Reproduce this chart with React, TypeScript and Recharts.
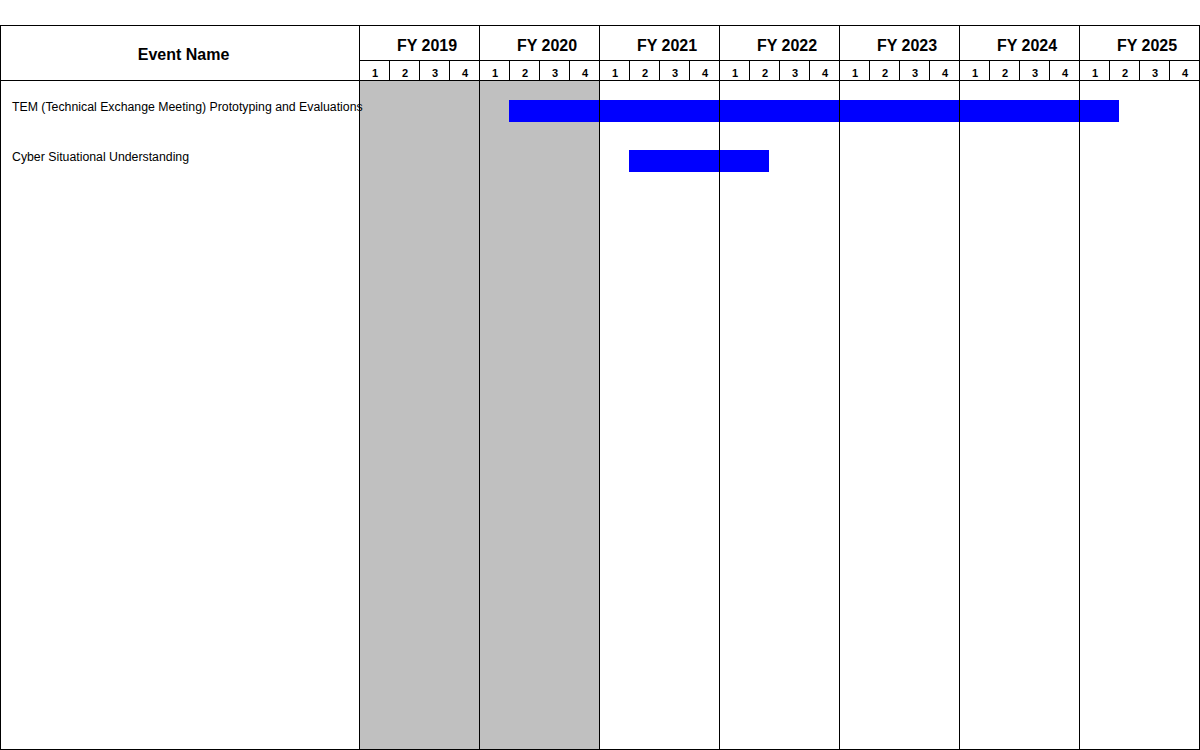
import React from 'react';
import { ComposedChart, Bar, XAxis, YAxis, ReferenceLine, CartesianGrid } from 'recharts';

// ---------- data ----------
const fiscalYears = [2019, 2020, 2021, 2022, 2023, 2024, 2025];
const quarterLabels = ['1', '2', '3', '4'];
const shadedYears = [2019, 2020];
const eventNames = [
  'TEM (Technical Exchange Meeting) Prototyping and Evaluations',
  'Cyber Situational Understanding',
];
// year-month of first and last (inclusive) month of each event
const eventStarts = ['2020-01', '2021-01'];
const eventEnds = ['2025-01', '2022-02'];

// ---------- helpers ----------
const FIRST_FY = fiscalYears[0];
const TOTAL_MONTHS = fiscalYears.length * 12;
// fiscal year N begins in October of year N-1
const monthIndex = (ym: string) => {
  const [y, m] = ym.split('-').map(Number);
  return (y - (FIRST_FY - 1)) * 12 + (m - 10);
};
const fyIndex = (fy: number) => (fy - FIRST_FY) * 12;

const data = eventNames.map((name, i) => ({
  name,
  span: [monthIndex(eventStarts[i]), monthIndex(eventEnds[i]) + 1],
}));

const yearTicks = [...fiscalYears.map(fyIndex), TOTAL_MONTHS];
const quarterTicks = Array.from({ length: fiscalYears.length * 4 + 1 }, (_, i) => i * 3);
const yearFills = fiscalYears.map((fy) => (shadedYears.includes(fy) ? '#c0c0c0' : 'none'));

// ---------- layout ----------
const W = 1200;
const H = 750;
const TOP = 25;
const YAXIS_W = 359;
const RIGHT = 1;
const PLOT_W = W - YAXIS_W - RIGHT;
const PX_PER_MONTH = PLOT_W / TOTAL_MONTHS;
const Q_ROW_H = 20;
const Y_ROW_H = 35;
const FONT = '"Liberation Sans", Arial, Helvetica, sans-serif';

const QuarterTick = (props: any) => {
  const { x, y, index } = props;
  const showLabel = index < quarterTicks.length - 1;
  return (
    <g>
      <line x1={x} x2={x} y1={y} y2={y - Q_ROW_H} stroke="#000" shapeRendering="crispEdges" />
      {showLabel && (
        <text
          x={x + (3 * PX_PER_MONTH) / 2 + 1}
          y={y - 3.5}
          textAnchor="middle"
          fontFamily={FONT}
          fontWeight="bold"
          fontSize={11}
          fill="#000"
        >
          {quarterLabels[index % 4]}
        </text>
      )}
    </g>
  );
};

const YearTick = (props: any) => {
  const { x, y, index } = props;
  const showLabel = index < fiscalYears.length;
  return (
    <g>
      <line x1={x} x2={x} y1={y} y2={y - Y_ROW_H} stroke="#000" shapeRendering="crispEdges" />
      {showLabel && (
        <text
          x={x + (12 * PX_PER_MONTH) / 2 + 8}
          y={y - 9.5}
          textAnchor="middle"
          fontFamily={FONT}
          fontWeight="bold"
          fontSize={16}
          fill="#000"
        >
          {`FY ${fiscalYears[index]}`}
        </text>
      )}
    </g>
  );
};

const EventTick = (props: any) => {
  const { y, payload } = props;
  return (
    <text x={12} y={y} fontFamily={FONT} fontSize={12.3} fill="#000">
      {payload.value}
    </text>
  );
};

export default function App() {
  return (
    <div style={{ position: 'absolute', left: 0, top: 0, width: W, height: H, background: '#fff' }}>
      <ComposedChart
        layout="vertical"
        width={W}
        height={H}
        data={data}
        margin={{ top: TOP, right: RIGHT, bottom: 1, left: 0 }}
      >
        <XAxis
          xAxisId="q"
          orientation="top"
          type="number"
          domain={[0, TOTAL_MONTHS]}
          ticks={quarterTicks}
          interval={0}
          height={Q_ROW_H}
          tickSize={0}
          tickMargin={0}
          tickLine={false}
          allowDataOverflow
          axisLine={{ stroke: '#000', shapeRendering: 'crispEdges' }}
          tick={(p: any) => <QuarterTick {...p} />}
        />
        <XAxis
          xAxisId="y"
          orientation="top"
          type="number"
          domain={[0, TOTAL_MONTHS]}
          ticks={yearTicks}
          interval={0}
          height={Y_ROW_H}
          tickSize={0}
          tickMargin={0}
          tickLine={false}
          allowDataOverflow
          axisLine={{ stroke: '#000', shapeRendering: 'crispEdges' }}
          tick={(p: any) => <YearTick {...p} />}
        />
        <YAxis
          type="category"
          dataKey="name"
          width={YAXIS_W}
          interval={0}
          tickLine={false}
          padding={{ top: 6, bottom: 563 }}
          axisLine={{ stroke: '#000', shapeRendering: 'crispEdges' }}
          tick={(p: any) => <EventTick {...p} />}
        />
        <CartesianGrid
          xAxisId="y"
          horizontal={false}
          vertical
          stroke="none"
          verticalFill={yearFills}
          fillOpacity={1}
        />
        {fiscalYears.slice(1).map((fy) => (
          <ReferenceLine
            key={`l${fy}`}
            xAxisId="q"
            x={fyIndex(fy)}
            stroke="#000"
            strokeWidth={1}
            shapeRendering="crispEdges"
          />
        ))}
        <Bar
          xAxisId="q"
          dataKey="span"
          fill="#0000ff"
          barSize={22}
          isAnimationActive={false}
        />
      </ComposedChart>
      <svg
        width={W}
        height={H}
        style={{ position: 'absolute', left: 0, top: 0, pointerEvents: 'none' }}
      >
        <rect x={0.5} y={TOP + 0.5} width={W - 1} height={H - TOP - 1} fill="none" stroke="#000" />
        <line x1={0} x2={YAXIS_W} y1={80.5} y2={80.5} stroke="#000" />
        <text
          x={YAXIS_W / 2 + 4}
          y={60}
          textAnchor="middle"
          fontFamily={FONT}
          fontWeight="bold"
          fontSize={16}
          fill="#000"
        >
          Event Name
        </text>
      </svg>
    </div>
  );
}
